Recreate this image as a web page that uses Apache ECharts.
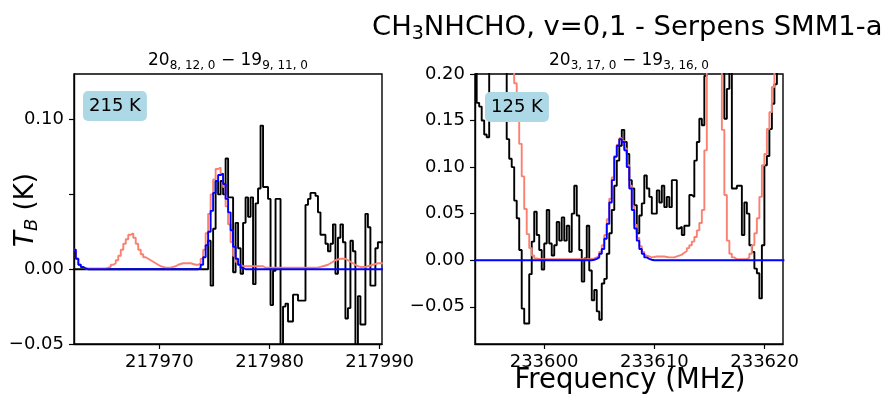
<!DOCTYPE html>
<html><head><meta charset="utf-8">
<script src="https://cdn.jsdelivr.net/npm/echarts@6/dist/echarts.min.js"></script>
<style>html,body{margin:0;padding:0;background:#fff}#c{width:883px;height:395px}</style>
</head><body><div id="c"></div>
<script>
// ---- channel grids (left edge of first channel, channel width, MHz) ----
const leftF0 = 217962.185, leftDf = 0.22665;
const rightF0 = 233593.666, rightDf = 0.22686;

// ---- axis ranges and ticks ----
const leftXRange = [217962.245, 217990.21];
const rightXRange = [233593.74, 233621.67];
const leftYRange = [-0.05, 0.1305];
const rightYRange = [-0.090, 0.20];
const leftXTicks = [217970, 217980, 217990];
const rightXTicks = [233600, 233610, 233620];
const leftYTicks = [-0.05, 0, 0.05, 0.10];
const leftYLabels = [-0.05, 0, 0.10];
const rightYTicks = [-0.05, 0, 0.05, 0.10, 0.15, 0.20];

// ---- texts ----
const panelTemps = ['215 K', '125 K'];

// ---- left panel: observed spectrum (black) ----
const leftObs = [
 0,0,0,0,0,0,0,0,0,0, 0,0,0,0,0,0,0,0,0,0, 0,0,0,0,0,0,0,0,0,0,
 0,0,0,0,0,0,0,0,0,0, 0,0,0,0,0,0,0,0,0,0, 0,0,0,0,
 0.019,-0.011,0.027,0.059,0.050,0.059,0.050,0.074,0.048,0.048,
 -0.002,0.031,0.014,-0.003,0.031,0.048,0.035,0.048,-0.010,0.044,
 0.054,0.096,0.055,0.055,0.047,-0.024,-0.001,0.047,0.047,-0.065,
 -0.025,-0.023,-0.035,-0.035,-0.017,-0.017,-0.021,-0.021,-0.021,0.043,
 0.047,0.051,0.051,0.049,0.038,0.023,0.023,0.017,0.012,0.017,
 0.030,-0.003,0.021,0.030,0.018,-0.033,-0.026,0.019,0.012,-0.065,
 -0.018,-0.037,-0.037,0.037,0.028,-0.011,-0.011,0.014,0.018,0.018
];
// ---- left panel: full model (salmon) ----
const leftModelAll = [
 0.013,0.007,0.003,0.0015,0.0005,0.0005,0.0005,0.0005,0.0005,0.0005,
 0.0005,0.0005,0.0005,0.001,0.0015,0.003,0.004,0.006,0.009,0.013,
 0.017,0.020,0.023,0.024,0.021,0.017,0.013,0.010,0.008,0.007,
 0.006,0.005,0.004,0.003,0.002,0.0015,0.001,0.001,0.001,0.0015,
 0.002,0.003,0.0035,0.004,0.004,0.004,0.004,0.0035,0.003,0.003,
 0.004,0.007,0.013,0.024,0.037,0.050,0.060,0.067,0.068,0.063,
 0.055,0.042,0.030,0.018,0.009,0.005,0.003,0.002,0.002,0.002,
 0.002,0.002,0.002,0.002,0.002,0.002,0.001,0.001,0.001,0.001,
 0.001,0.001,0.001,0.001,0.001,0.001,0.001,0.001,0.001,0.001,
 0.001,0.001,0.001,0.001,0.001,0.001,0.001,0.0012,0.0015,0.002,
 0.0025,0.003,0.004,0.005,0.006,0.0065,0.007,0.007,0.007,0.006,
 0.005,0.004,0.003,0.002,0.0015,0.0015,0.0015,0.002,0.0025,0.003,
 0.0035,0.004,0.004,0.004
];
// ---- left panel: CH3NHCHO model (blue) ----
const leftModelMol = [
 0.013,0.007,0.003,0.0015,0.0005,0,0,0,0,0,
 0,0,0,0,0,0,0,0,0,0, 0,0,0,0,0,0,0,0,0,0,
 0,0,0,0,0,0,0,0,0,0, 0,0,0,0,0,0,0,0,0,0,
 0.001,0.003,0.008,0.016,0.025,0.039,0.051,0.059,0.063,0.064,
 0.057,0.047,0.038,0.026,0.015,0.007,0.003,0.001,
 0,0,0,0,0,0,0,0,0,0, 0,0,0,0,0,0,0,0,0,0,
 0,0,0,0,0,0,0,0,0,0, 0,0,0,0,0,0,0,0,0,0,
 0,0,0,0,0,0,0,0,0,0, 0,0,0,0,0,0
];

// ---- right panel: observed spectrum (black) ----
const rightObs = [
 0.30,0.169,0.165,0.150,0.135,0.132,0.30,0.30,0.30,0.30,
 0.30,0.30,0.30,0.130,0.109,0.100,0.064,0.045,0.011,-0.052,
 -0.068,-0.068,-0.015,0.020,0.052,0.027,0.011,-0.010,0.018,0.054,
 0.018,0.005,0.016,0.041,0.021,0.046,0.021,0.037,0.009,0.050,
 0.080,0.048,0.011,-0.023,0.002,0.037,-0.011,-0.043,-0.032,-0.055,
 -0.064,-0.025,-0.020,0.007,0.029,0.054,0.080,0.107,0.123,0.140,
 0.127,0.114,0.086,0.077,0.059,0.029,0.048,0.061,0.091,0.077,
 0.068,0.050,0.050,0.075,0.062,0.080,0.057,0.068,0.057,0.086,
 0.086,0.034,0.036,0.027,0.037,0.037,0.070,0.068,0.107,0.127,
 0.152,0.145,0.198,0.30,0.30,0.30,0.30,0.30,0.30,0.30,
 0.152,0.184,0.30,0.077,0.077,0.080,0.080,0.027,0.062,0.050,
 0.016,0.009,-0.009,-0.014,-0.041,0.016,0.102,0.112,0.141,0.168,
 0.189,0.30,0.30,0.30
];
// ---- right panel: full model (salmon) ----
const rightModelAll = [
 0.40,0.40,0.40,0.40,0.40,0.40,0.40,0.40,0.40,0.40,
 0.40,0.40,0.40,0.40,0.40,0.25,0.19,0.155,0.125,0.090,
 0.055,0.028,0.013,0.005,0.002,0.0015,0.001,0.001,0.001,0.001,
 0.001,0.001,0.001,0.001,0.001,0.001,0.001,0.001,0.001,0.001,
 0.001,0.001,0.001,0.001,0.001,0.0012,0.0015,0.002,0.003,0.005,
 0.009,0.016,0.027,0.044,0.066,0.089,0.112,0.124,0.131,0.128,
 0.120,0.102,0.080,0.058,0.038,0.024,0.015,0.009,0.005,0.004,
 0.003,0.0035,0.004,0.004,0.004,0.004,0.0035,0.003,0.003,0.003,
 0.004,0.005,0.006,0.008,0.010,0.013,0.016,0.020,0.025,0.032,
 0.040,0.054,0.118,0.40,0.40,0.40,0.40,0.40,0.40,0.14,
 0.07,0.021,0.007,0.003,0.001,0.001,0.001,0.001,0.001,0.003,
 0.007,0.016,0.029,0.045,0.068,0.102,0.114,0.141,0.159,0.186,
 0.40,0.40,0.40,0.40
];
// ---- right panel: CH3NHCHO model (blue) ----
const rightModelMol = [
 0,0,0,0,0,0,0,0,0,0, 0,0,0,0,0,0,0,0,0,0,
 0,0,0,0,0,0,0,0,0,0, 0,0,0,0,0,0,0,0,0,0,
 0,0,0,0,0,0,0,
 0.0005,0.0015,0.003,0.007,0.012,0.023,0.039,0.062,0.086,0.111,
 0.123,0.130,0.127,0.118,0.100,0.077,0.054,0.034,0.021,0.012,
 0.007,0.003,0.0015,0.0005,
 0,0,0,0,0,0,0,0,0,0, 0,0,0,0,0,0,0,0,0,0,
 0,0,0,0,0,0,0,0,0,0, 0,0,0,0,0,0,0,0,0,0,
 0,0,0,0,0,0,0,0,0,0, 0,0,0
];

function steps(f0, df, vals) {
  const out = vals.map((v, i) => [f0 + i * df, v]);
  out.push([f0 + vals.length * df, vals[vals.length - 1]]);
  return out;
}

const FONT = 'DejaVu Sans';
function fmtY(v) {
  const s = Math.abs(v).toFixed(2);
  return v < -1e-9 ? '\u2212' + s : s;
}
function xAxis(idx, range, ticks) {
  return {
    gridIndex: idx, type: 'value', min: range[0], max: range[1],
    axisLine: { show: true, onZero: false, lineStyle: { color: '#000', width: 1.4 } },
    axisTick: { show: true, inside: false, length: 5, lineStyle: { color: '#000', width: 1.2 }, customValues: ticks },
    axisLabel: { customValues: ticks, formatter: v => String(Math.round(v)), fontSize: 18, color: '#000', fontFamily: FONT, margin: 9 },
    splitLine: { show: false }
  };
}
function yAxis(idx, range, ticks, labels) {
  return {
    gridIndex: idx, type: 'value', min: range[0], max: range[1],
    axisLine: { show: true, onZero: false, lineStyle: { color: '#000', width: 1.4 } },
    axisTick: { show: true, inside: false, length: 5, lineStyle: { color: '#000', width: 1.2 }, customValues: ticks },
    axisLabel: { customValues: labels, formatter: fmtY, fontSize: 18, color: '#000', fontFamily: FONT, margin: 10 },
    splitLine: { show: false }
  };
}
function line(idx, data, color, z) {
  return {
    type: 'line', xAxisIndex: idx, yAxisIndex: idx, data: data, step: 'end',
    showSymbol: false, symbol: 'none', clip: true, z: z,
    lineStyle: { color: color, width: 1.9 }, emphasis: { disabled: true }
  };
}

const chart = echarts.init(document.getElementById('c'), null, { renderer: 'canvas' });
const subRich = {
  a: { fontSize: 17, fontFamily: FONT, fill: '#000', lineHeight: 22 },
  s: { fontSize: 12, fontFamily: FONT, fill: '#000', lineHeight: 12, verticalAlign: 'bottom' }
};
const boxStyle = { fontSize: 18, fontFamily: FONT, fill: '#000', lineHeight: 20,
  backgroundColor: '#add8e6', borderRadius: 5, padding: [5, 6, 5, 6] };
chart.setOption({
  animation: false,
  backgroundColor: '#fff',
  grid: [
    { left: 74, top: 74, width: 308, height: 270, show: true, borderColor: '#000', borderWidth: 1.4, containLabel: false },
    { left: 475, top: 74, width: 308, height: 270, show: true, borderColor: '#000', borderWidth: 1.4, containLabel: false }
  ],
  xAxis: [xAxis(0, leftXRange, leftXTicks), xAxis(1, rightXRange, rightXTicks)],
  yAxis: [yAxis(0, leftYRange, leftYTicks, leftYLabels), yAxis(1, rightYRange, rightYTicks, rightYTicks)],
  series: [
    line(0, steps(leftF0, leftDf, leftObs), '#000000', 2),
    line(0, steps(leftF0, leftDf, leftModelAll), '#fa8072', 3),
    line(0, steps(leftF0, leftDf, leftModelMol), '#0000ff', 4),
    line(1, steps(rightF0, rightDf, rightObs), '#000000', 2),
    line(1, steps(rightF0, rightDf, rightModelAll), '#fa8072', 3),
    line(1, steps(rightF0, rightDf, rightModelMol), '#0000ff', 4)
  ],
  graphic: [
    { type: 'text', x: 372, y: 28, z: 10, style: {
        text: '{a|CH}{s|3}{a|NHCHO, v=0,1 - Serpens SMM1-a}',
        textAlign: 'left', textVerticalAlign: 'middle',
        rich: {
          a: { fontSize: 27.4, fontFamily: FONT, fill: '#000', lineHeight: 32 },
          s: { fontSize: 19, fontFamily: FONT, fill: '#000', lineHeight: 19, verticalAlign: 'bottom' }
        } } },
    { type: 'text', x: 228, y: 61, z: 10, style: {
        text: '{a|20}{s|8, 12, 0}{a| \u2212 19}{s|9, 11, 0}', textAlign: 'center', textVerticalAlign: 'middle', rich: subRich } },
    { type: 'text', x: 629, y: 61, z: 10, style: {
        text: '{a|20}{s|3, 17, 0}{a| \u2212 19}{s|3, 16, 0}', textAlign: 'center', textVerticalAlign: 'middle', rich: subRich } },
    { type: 'text', x: 83, y: 91, z: 10, style: Object.assign({ text: panelTemps[0] }, boxStyle) },
    { type: 'text', x: 485, y: 92, z: 10, style: Object.assign({ text: panelTemps[1] }, boxStyle) },
    { type: 'text', x: 26, y: 210, rotation: Math.PI / 2, z: 10, style: {
        text: '{t|T}{s|B}{a| (K)}', textAlign: 'center', textVerticalAlign: 'middle',
        rich: {
          t: { fontSize: 26, fontFamily: FONT, fontStyle: 'italic', fill: '#000', lineHeight: 30 },
          s: { fontSize: 18, fontFamily: FONT, fontStyle: 'italic', fill: '#000', lineHeight: 18, verticalAlign: 'bottom' },
          a: { fontSize: 26, fontFamily: FONT, fill: '#000', lineHeight: 30 }
        } } },
    { type: 'text', x: 630, y: 381, z: 10, style: {
        text: 'Frequency (MHz)', fontSize: 27.5, fontFamily: FONT, fill: '#000',
        textAlign: 'center', textVerticalAlign: 'middle' } }
  ]
});
</script>
</body></html>
